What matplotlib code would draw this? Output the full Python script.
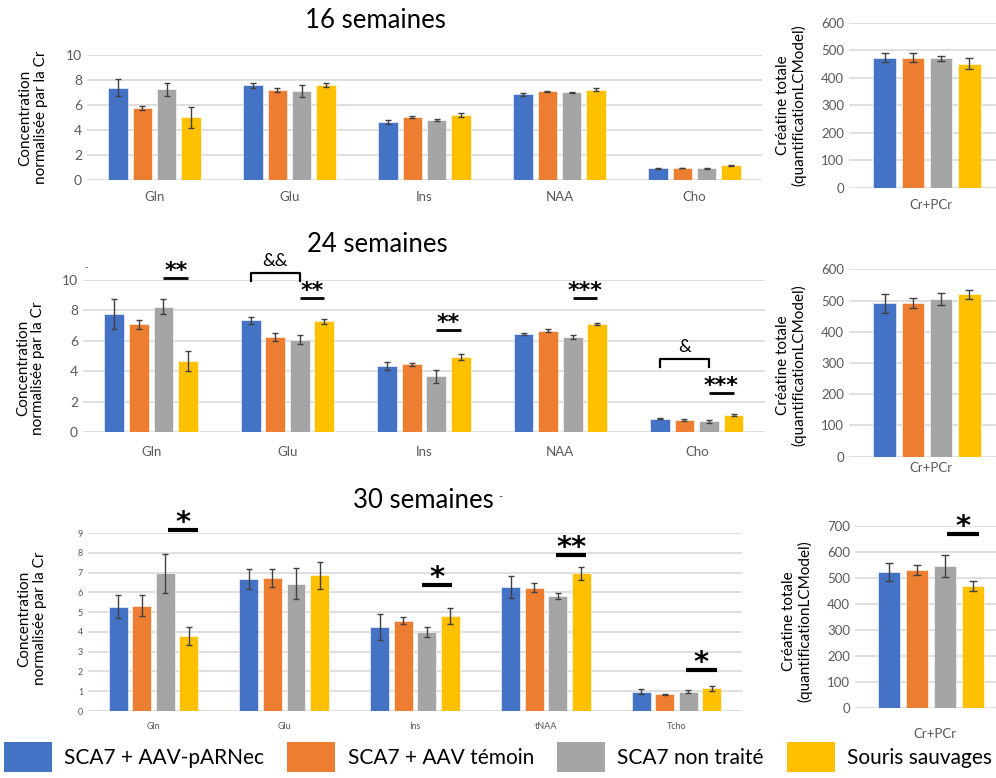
import matplotlib
matplotlib.use('Agg')
import matplotlib.pyplot as plt
import numpy as np
from matplotlib.patches import Patch

plt.rcParams['font.family'] = ['Lato', 'DejaVu Sans']

# groups / colours
groups = ['SCA7 + AAV-pARNec', 'SCA7 + AAV témoin', 'SCA7 non traité', 'Souris sauvages']
colors = ['#4472C4', '#ED7D31', '#A5A5A5', '#FFC000']

metab_16 = ['Gln', 'Glu', 'Ins', 'NAA', 'Cho']
metab_24 = ['Gln', 'Glu', 'Ins', 'NAA', 'Cho']
metab_30 = ['Gln', 'Glu', 'Ins', 'tNAA', 'Tcho']

# rows = groups, columns = metabolites
val_16 = [[7.38, 7.57, 4.64, 6.85, 0.93],
          [5.76, 7.20, 5.01, 7.09, 0.96],
          [7.25, 7.12, 4.80, 7.01, 0.93],
          [5.01, 7.60, 5.20, 7.23, 1.20]]
err_16 = [[0.67, 0.22, 0.15, 0.10, 0.03],
          [0.17, 0.15, 0.08, 0.07, 0.03],
          [0.53, 0.45, 0.07, 0.05, 0.03],
          [0.85, 0.15, 0.13, 0.12, 0.04]]

val_24 = [[7.74, 7.35, 4.32, 6.43, 0.88],
          [7.10, 6.23, 4.45, 6.66, 0.79],
          [8.25, 6.07, 3.66, 6.23, 0.70],
          [4.67, 7.28, 4.91, 7.08, 1.12]]
err_24 = [[0.98, 0.24, 0.26, 0.08, 0.03],
          [0.30, 0.26, 0.10, 0.10, 0.04],
          [0.48, 0.30, 0.44, 0.13, 0.10],
          [0.66, 0.15, 0.20, 0.06, 0.04]]

val_30 = [[5.27, 6.66, 4.26, 6.28, 0.98],
          [5.32, 6.71, 4.57, 6.23, 0.84],
          [6.96, 6.44, 3.99, 5.81, 0.98],
          [3.79, 6.86, 4.80, 6.96, 1.15]]
err_30 = [[0.59, 0.50, 0.66, 0.55, 0.12],
          [0.54, 0.45, 0.18, 0.22, 0.02],
          [1.00, 0.80, 0.25, 0.17, 0.08],
          [0.47, 0.67, 0.39, 0.34, 0.13]]

cr_16 = [474, 474, 471, 451]
cr_err_16 = [16, 15, 9, 20]
cr_24 = [491, 493, 506, 520]
cr_err_24 = [30, 16, 19, 14]
cr_30 = [524, 530, 547, 470]
cr_err_30 = [35, 20, 41, 20]

GRID = '#D9D9D9'
TXT = '#595959'
ERR = '#404040'

fig = plt.figure(figsize=(9.96, 7.78), dpi=100)


def style(ax, ticks, tfs):
    for s in ax.spines.values():
        s.set_visible(False)
    ax.set_yticks(ticks)
    ax.yaxis.grid(True, color=GRID, lw=1.2)
    ax.set_axisbelow(True)
    ax.tick_params(axis='both', length=0, labelsize=tfs, labelcolor=TXT)


def left_chart(rect, names, vals, errs, ymax, ticks, tfs, xfs, pad, capsize=2.5):
    ax = fig.add_axes(rect)
    x = np.arange(len(names))
    offs = [-0.27, -0.09, 0.09, 0.27]
    for g in range(4):
        ax.bar(x + offs[g], vals[g], 0.145, color=colors[g], edgecolor='white', lw=0.4,
               yerr=errs[g], error_kw=dict(ecolor=ERR, elinewidth=1, capsize=capsize, capthick=1))
    ax.set_xlim(-0.5, len(names) - 0.5)
    ax.set_ylim(0, ymax)
    style(ax, ticks, tfs)
    ax.set_xticks(x)
    ax.set_xticklabels(names, fontsize=xfs, color=TXT)
    ax.tick_params(axis='x', pad=pad)
    return ax


def right_chart(rect, vals, errs, ymax, ticks, tfs, pad, xl):
    ax = fig.add_axes(rect)
    pos = np.array([-1.5, -0.5, 0.5, 1.5])
    ax.bar(pos, vals, 0.8, color=colors, edgecolor='white', lw=0.4,
           yerr=errs, error_kw=dict(ecolor=ERR, elinewidth=1, capsize=3, capthick=1))
    ax.set_xlim(*xl)
    ax.set_ylim(0, ymax)
    style(ax, ticks, tfs)
    ax.set_xticks([0.15])
    ax.set_xticklabels(['Cr+PCr'], fontsize=9.5, color=TXT)
    ax.tick_params(axis='x', pad=pad)
    ax.set_ylabel('Créatine totale\n(quantificationLCModel)', fontsize=11, linespacing=1.1)
    return ax


def sig(ax, x0, x1, y, txt, fs, lw, dy):
    ax.plot([x0, x1], [y, y], color='black', lw=lw, clip_on=False, solid_capstyle='butt')
    ax.annotate(txt, ((x0 + x1) / 2, y), xytext=(0, dy), textcoords='offset points',
                ha='center', va='center', fontsize=fs, color='black', family='DejaVu Sans',
                fontweight='bold', annotation_clip=False)


def bracket(ax, x0, x1, ytop, ybot, txt):
    ax.plot([x0, x0, x1, x1], [ybot, ytop, ytop, ybot], color='black', lw=1.6, clip_on=False)
    ax.annotate(txt, ((x0 + x1) / 2, ytop), xytext=(0, 9), textcoords='offset points',
                ha='center', va='center', fontsize=13, color='black', annotation_clip=False)


ylab = 'Concentration\nnormalisée par la Cr'

# ---- 16 semaines
fig.text(375 / 996, 1 - 20 / 778, '16 semaines', ha='center', va='center', fontsize=18.5)
a1 = left_chart([0.0873, 0.7686, 0.6777, 0.1607], metab_16, val_16, err_16, 10,
                [0, 2, 4, 6, 8, 10], 10, 9.5, 8)
a1.set_ylabel(ylab, fontsize=11, linespacing=1.1)
a1.yaxis.set_label_coords(-0.058, 0.5)
b1 = right_chart([0.8524, 0.7584, 0.1476, 0.2121], cr_16, cr_err_16, 600,
                 range(0, 601, 100), 9.5, 8, (-2.76, 2.44))
b1.yaxis.set_label_coords(-0.29, 0.5)

# ---- 24 semaines
fig.text(377 / 996, 1 - 245 / 778, '24 semaines', ha='center', va='center', fontsize=18.5)
a2 = left_chart([0.0833, 0.4447, 0.6847, 0.1954], metab_24, val_24, err_24, 10,
                [0, 2, 4, 6, 8, 10], 10, 9.5, 10)
a2.set_ylabel(ylab, fontsize=11, linespacing=1.1)
a2.yaxis.set_label_coords(-0.055, 0.42)
b2 = right_chart([0.8524, 0.4130, 0.1476, 0.2409], cr_24, cr_err_24, 600,
                 range(0, 601, 100), 9.5, 4, (-2.76, 2.44))
b2.yaxis.set_label_coords(-0.29, 0.49)

sig(a2, 0.09, 0.27, 10.15, '**', 16, 2, 5)
bracket(a2, 0.73, 1.09, 10.44, 9.93, '&&')
sig(a2, 1.09, 1.27, 8.84, '**', 16, 2, 5)
sig(a2, 2.09, 2.27, 6.71, '**', 16, 2, 5)
sig(a2, 3.09, 3.27, 8.80, '***', 16, 2, 5)
bracket(a2, 3.73, 4.09, 4.80, 4.30, '&')
sig(a2, 4.09, 4.27, 2.57, '***', 16, 2, 5)

# ---- 30 semaines
fig.text(423 / 996, 1 - 500 / 778, '30 semaines', ha='center', va='center', fontsize=18.5)
a3 = left_chart([0.0884, 0.0861, 0.6566, 0.2288], metab_30, val_30, err_30, 9,
                range(0, 10), 6.5, 6.5, 8)
a3.set_ylabel(ylab, fontsize=11, linespacing=1.1)
a3.yaxis.set_label_coords(-0.063, 0.52)
b3 = right_chart([0.8584, 0.0896, 0.1416, 0.2343], cr_30, cr_err_30, 700,
                 range(0, 701, 100), 9.5, 14, (-2.71, 2.32))
b3.yaxis.set_label_coords(-0.30, 0.48)

sig(a3, 0.11, 0.34, 9.15, '*', 21, 3, 5)
sig(a3, 2.05, 2.28, 6.37, '*', 21, 3, 5)
sig(a3, 3.08, 3.31, 7.89, '**', 21, 3, 5)
sig(a3, 4.07, 4.31, 2.07, '*', 21, 3, 5)
sig(b3, 0.57, 1.71, 669, '*', 21, 3, 5)

# stray dashes present in the source figure
fig.text(86 / 996, 1 - 268 / 778, '-', fontsize=7, color=TXT, ha='center', va='center')
fig.text(500 / 996, 1 - 497 / 778, '-', fontsize=8, color='#333333', ha='center', va='center')

# legend
handles = [Patch(facecolor=c, edgecolor='none') for c in colors]
fig.legend(handles, groups, loc='center', bbox_to_anchor=(0.5, 1 - 757 / 778), ncol=4,
           frameon=False, fontsize=15, handlelength=2.3, handleheight=1.8,
           handletextpad=0.6, columnspacing=1.1, borderaxespad=0, borderpad=0)

fig.savefig('out.png', dpi=100)
